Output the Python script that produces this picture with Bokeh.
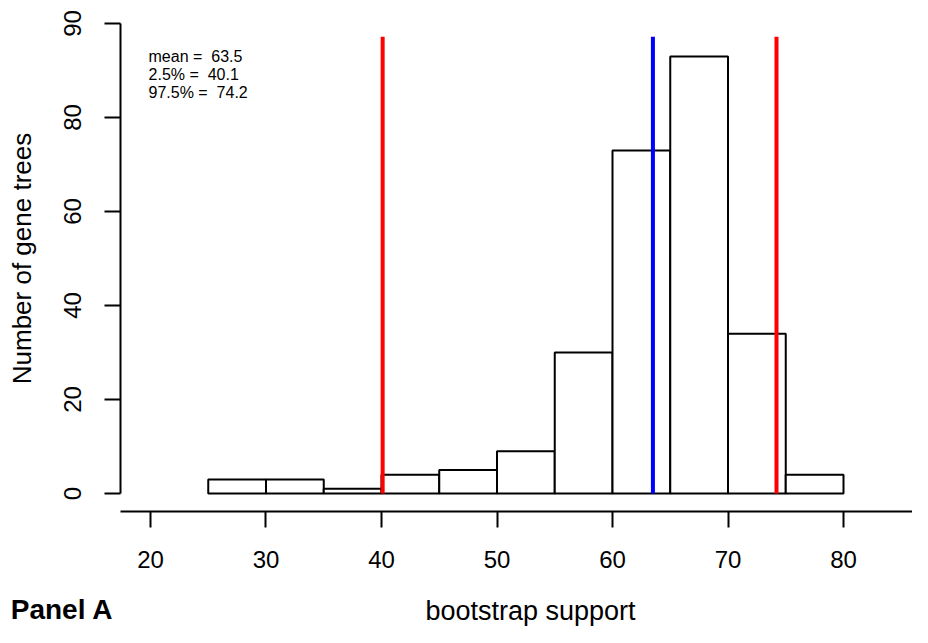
from bokeh.plotting import figure
from bokeh.models import Range1d, FixedTicker, Label
from bokeh.embed import file_html
from bokeh.resources import INLINE

# ---- data ----
bin_left = [25, 30, 35, 40, 45, 50, 55, 60, 65, 70, 75]
bin_right = [30, 35, 40, 45, 50, 55, 60, 65, 70, 75, 80]
counts = [3, 3, 1, 4, 5, 9, 30, 73, 93, 34, 4]
mean_val = 63.5
q_low = 40.1
q_high = 74.2
x_ticks = [20, 30, 40, 50, 60, 70, 80]
y_ticks = [0, 20, 40, 60, 80, 100]
y_tick_labels = ["0", "20", "40", "60", "80", "90"]
NB = "\u00a0"
stat_lines = ["mean =" + NB + NB + "63.5", "2.5% =" + NB + NB + "40.1", "97.5% =" + NB + NB + "74.2"]

FONT = "Liberation Sans"

p = figure(width=912, height=627, output_backend="svg", toolbar_location=None,
           x_range=Range1d(7.013, 85.974), y_range=Range1d(-28.51, 104.894),
           min_border=0)
p.outline_line_color = None
p.grid.visible = False
p.background_fill_color = "white"
p.border_fill_color = "white"

# histogram bars
p.quad(left=bin_left, right=bin_right, bottom=0, top=counts,
       fill_color="white", line_color="black", line_width=2)

# vertical lines
p.segment(x0=[q_low, mean_val, q_high], x1=[q_low, mean_val, q_high],
          y0=[0, 0, 0], y1=[97.2, 97.2, 97.2],
          line_color=["#FF0000", "#0000FF", "#FF0000"], line_width=4)

# axes (placed at fixed locations, R-style detached axes)
xa = p.xaxis[0]
xa.fixed_location = -3.83
xa.bounds = (17.403, 85.974)
xa.ticker = FixedTicker(ticks=x_ticks)
xa.minor_tick_line_color = None
xa.major_tick_out = 16
xa.major_tick_in = 0
xa.major_tick_line_width = 2
xa.axis_line_width = 2
xa.major_label_text_font = FONT
xa.major_label_text_font_size = "24px"
xa.major_label_text_color = "black"
xa.major_label_standoff = 23

ya = p.yaxis[0]
ya.fixed_location = 17.403
ya.bounds = (0, 100)
ya.ticker = FixedTicker(ticks=y_ticks)
ya.major_label_overrides = {t: l for t, l in zip(y_ticks, y_tick_labels)}
ya.minor_tick_line_color = None
ya.major_tick_out = 16
ya.major_tick_in = 0
ya.major_tick_line_width = 2
ya.axis_line_width = 2
ya.major_label_orientation = "vertical"
ya.major_label_text_font = FONT
ya.major_label_text_font_size = "24px"
ya.major_label_text_color = "black"
ya.major_label_standoff = 24
ya.axis_label = "Number of gene trees"
ya.axis_label_text_font = FONT
ya.axis_label_text_font_size = "26px"
ya.axis_label_text_font_style = "normal"
ya.axis_label_text_color = "black"
ya.axis_label_standoff = 24

# stats text
for i, s in enumerate(stat_lines):
    p.add_layout(Label(x=19.83, y=93.0 - 3.83 * i, text=s, text_font=FONT,
                       text_font_size="16px", text_color="black",
                       text_baseline="alphabetic"))

# x axis title
p.add_layout(Label(x=52.9, y=-25.1, text="bootstrap support", text_font=FONT,
                   text_font_size="27px", text_color="black",
                   text_align="center", text_baseline="alphabetic"))

# panel label
p.add_layout(Label(x=7.90, y=-24.6, text="Panel A", text_font=FONT,
                   text_font_size="28px", text_font_style="bold",
                   text_color="black", text_baseline="alphabetic"))

open("out.html", "w").write(file_html(p, INLINE))
